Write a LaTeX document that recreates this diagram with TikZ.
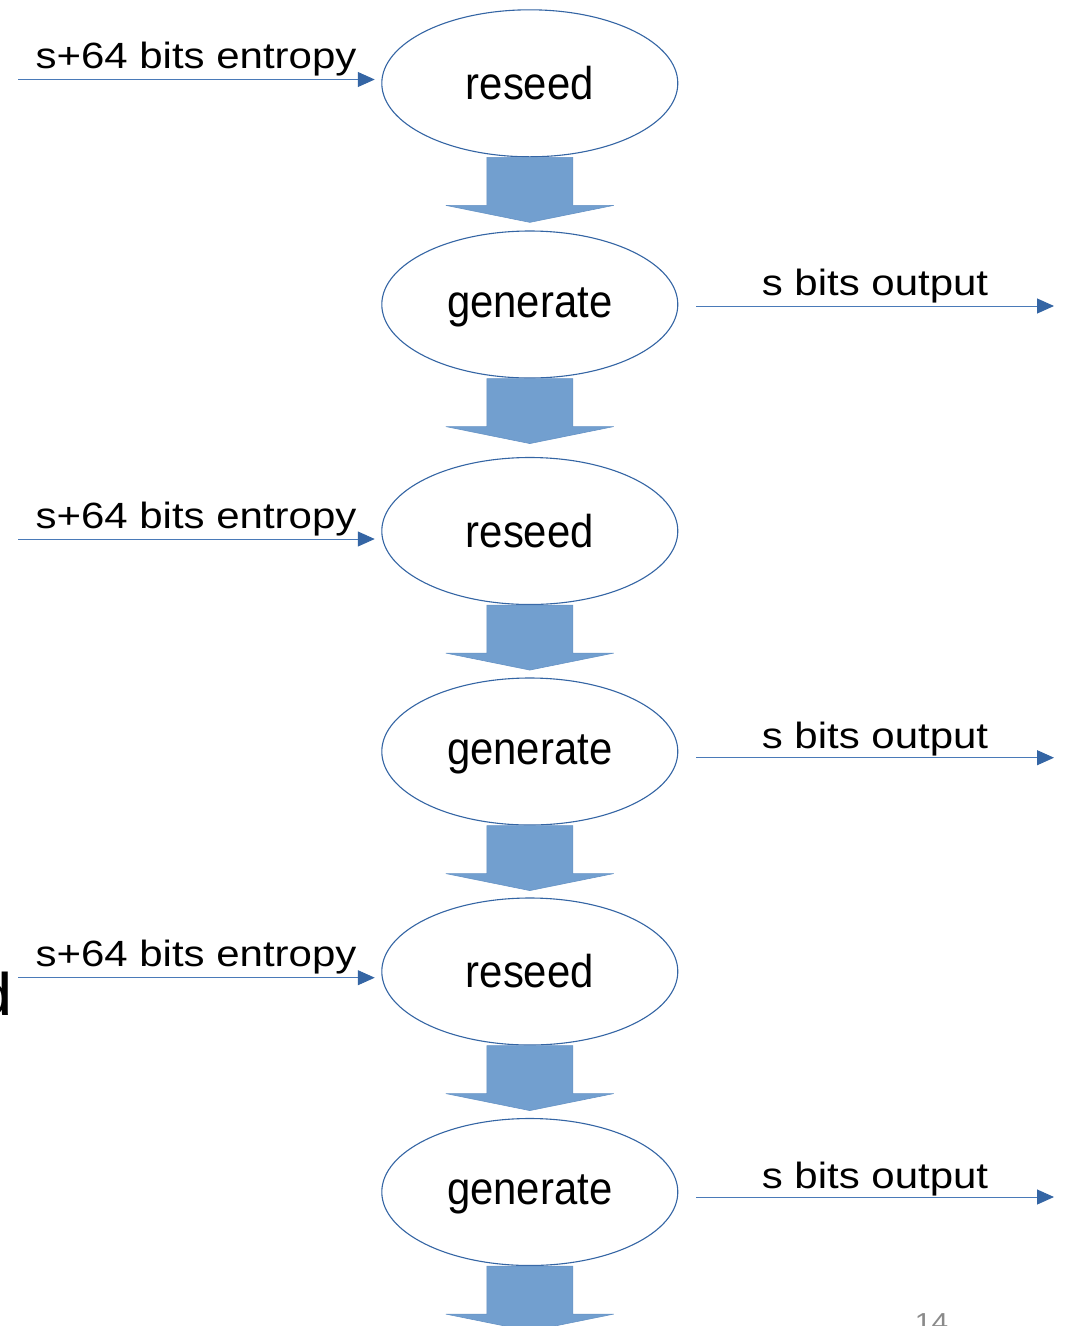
\documentclass[tikz,border=0pt]{standalone}
\usepackage{fontspec}
\usepackage{graphicx}
\setmainfont{Liberation Sans}
\usetikzlibrary{shapes.geometric,arrows.meta}
\definecolor{edge}{HTML}{3465A4}
\definecolor{fillb}{HTML}{729FCF}
\definecolor{linec}{HTML}{4A7AB8}
\definecolor{pagegray}{HTML}{8A8A8A}
\tikzset{
  stage/.style={ellipse, draw=edge, line width=1.1pt, fill=white,
    minimum width=296pt, minimum height=147pt, inner sep=0pt,
    font=\fontsize{46}{50}\selectfont},
  flow/.style={draw=linec, line width=1pt,
    -{Triangle[length=17pt,width=15pt,color=edge]}},
  sidelabel/.style={anchor=base, inner sep=0pt,
    font=\fontsize{36.5}{40}\selectfont},
  bigarrow/.style={fill=fillb, draw=fillb!80!edge, line width=0.6pt}
}
\newcommand{\wideT}[1]{\scalebox{1.15}[1]{#1}}
\newcommand{\narrowT}[1]{\scalebox{0.91}[1]{#1}}
\newcommand{\lowT}[1]{\raisebox{-2.5pt}[\height][\depth]{\scalebox{0.91}[1]{#1}}}
\newcommand{\blockdown}[1]{%
  \path[bigarrow, shift={(#1.south)}] (-43,0) -- (-43,48) -- (-84,48) -- (0,65)
    -- (84,48) -- (43,48) -- (43,0) -- cycle;}
\begin{document}
\begin{tikzpicture}[x=1pt,y=-1pt]
\useasboundingbox (0,0) rectangle (1068,1326);
\fill[white] (0,0) rectangle (1068,1326);
\clip (0,0) rectangle (1068,1326);

% stages
\node[stage] (r1) at (529.8,83.3)  {\narrowT{reseed}};
\node[stage] (g1) at (529.8,304.5) {\lowT{generate}};
\node[stage] (r2) at (529.8,531)   {\narrowT{reseed}};
\node[stage] (g2) at (529.8,751.5) {\lowT{generate}};
\node[stage] (r3) at (529.8,971.5) {\narrowT{reseed}};
\node[stage] (g3) at (529.8,1192)  {\lowT{generate}};

% block arrows
\blockdown{r1}
\blockdown{g1}
\blockdown{r2}
\blockdown{g2}
\blockdown{r3}
\blockdown{g3}

% entropy inputs
\coordinate (in1) at (18,79.5);
\coordinate (in2) at (18,539);
\coordinate (in3) at (18,977.7);
\draw[flow, shorten >=6.5pt] (in1) -- (in1 -| r1.west);
\draw[flow, shorten >=6.5pt] (in2) -- (in2 -| r2.west);
\draw[flow, shorten >=6.5pt] (in3) -- (in3 -| r3.west);
\node[sidelabel] (e1) at (196,68)  {\wideT{s+64 bits entropy}};
\node[sidelabel] (e2) at (196,528) {\wideT{s+64 bits entropy}};
\node[sidelabel] (e3) at (196,966) {\wideT{s+64 bits entropy}};

% outputs
\coordinate (out1) at (1054,306);
\coordinate (out2) at (1054,757.7);
\coordinate (out3) at (1054,1197);
\draw[flow, shorten <=18pt] (out1 -| g1.east) -- (out1);
\draw[flow, shorten <=18pt] (out2 -| g2.east) -- (out2);
\draw[flow, shorten <=18pt] (out3 -| g3.east) -- (out3);
\node[sidelabel] (o1) at (875,295)  {\wideT{s bits output}};
\node[sidelabel] (o2) at (875,748)  {\wideT{s bits output}};
\node[sidelabel] (o3) at (875,1188) {\wideT{s bits output}};

% cut-off fragments at the edges (cut off in the reference as well)
\node[anchor=base east, inner sep=0pt, font=\fontsize{60}{64}\selectfont] (frag) at (13,1015) {\wideT{d}};
\node[anchor=base west, inner sep=0pt, text=pagegray, font=\fontsize{26}{30}\selectfont] (pageno) at (914.7,1331.6) {\wideT{14}};
\end{tikzpicture}
\end{document}
